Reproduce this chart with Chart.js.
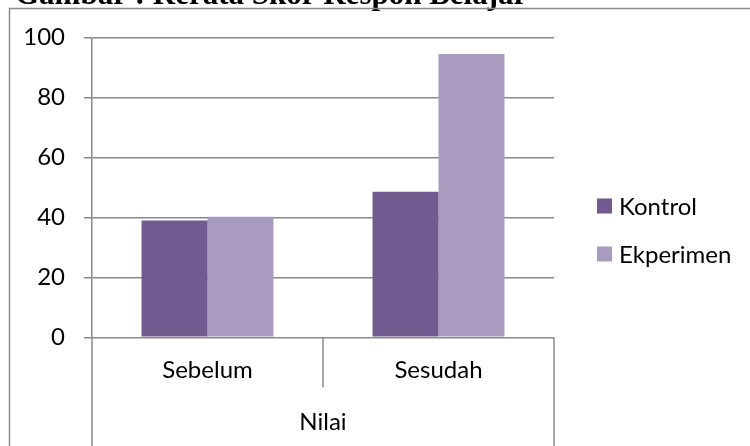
<!DOCTYPE html>
<html>
<head>
<meta charset="utf-8">
<script src="https://cdn.jsdelivr.net/npm/chart.js@4.4.0/dist/chart.umd.min.js"></script>
<style>
  html, body { margin: 0; padding: 0; background: #fff; }
  #wrap { width: 750px; height: 446px; position: relative; }
</style>
</head>
<body>
<div id="wrap"><canvas id="chart" width="750" height="446"></canvas></div>
<script>
const categories = ['Sebelum', 'Sesudah'];
const groupLabel = 'Nilai';
const kontrol = [38.9, 48.5];
const ekperimen = [40.2, 94.4];
const yTicks = [0, 20, 40, 60, 80, 100];
const titleText = 'Gambar : Rerata Skor Respon Belajar';

const lineColor = '#8a8a8a';
const sans = 'Lato';
const fontSize = 24;

// frame, title, multi-level axis lines and legend
const decor = {
  id: 'decor',
  afterDraw(chart) {
    const ctx = chart.ctx;
    const area = chart.chartArea;
    const x = chart.scales.x;
    ctx.save();
    ctx.fillStyle = '#000';
    ctx.font = 'bold 31px "Liberation Serif"';
    ctx.textBaseline = 'alphabetic';
    ctx.fillText(titleText, 15, 4);

    ctx.strokeStyle = lineColor;
    ctx.lineWidth = 1.5;
    ctx.strokeRect(9.5, 8.5, 900, 600);

    // category axis: outer lines down to the bottom, divider between categories
    ctx.beginPath();
    ctx.moveTo(area.left, area.bottom);
    ctx.lineTo(area.left, 446);
    ctx.moveTo(area.right, area.bottom);
    ctx.lineTo(area.right, 446);
    const mid = (x.getPixelForValue(0) + x.getPixelForValue(1)) / 2;
    ctx.moveTo(mid, area.bottom);
    ctx.lineTo(mid, area.bottom + 50);
    ctx.stroke();

    ctx.fillStyle = '#000';
    ctx.font = fontSize + 'px ' + sans;
    ctx.textAlign = 'center';
    ctx.textBaseline = 'middle';
    ctx.fillText(groupLabel, (area.left + area.right) / 2, 422);

    // legend
    ctx.textAlign = 'left';
    chart.data.datasets.forEach((ds, i) => {
      const cy = 206 + i * 48;
      ctx.fillStyle = ds.backgroundColor;
      ctx.fillRect(597, cy - 7.5, 15, 15);
      ctx.fillStyle = '#000';
      ctx.fillText(ds.label, 619, cy + 1);
    });
    ctx.restore();
  }
};

new Chart(document.getElementById('chart').getContext('2d'), {
  type: 'bar',
  data: {
    labels: categories,
    datasets: [
      { label: 'Kontrol', data: kontrol, backgroundColor: '#72598f' },
      { label: 'Ekperimen', data: ekperimen, backgroundColor: '#a99abf' }
    ]
  },
  options: {
    responsive: false,
    animation: false,
    devicePixelRatio: 1,
    categoryPercentage: 0.571,
    barPercentage: 1,
    layout: { padding: { left: 0, top: 37.3, right: 196, bottom: 0 } },
    plugins: { legend: { display: false }, tooltip: { enabled: false } },
    scales: {
      x: {
        grid: { display: false, drawTicks: false },
        border: { display: false },
        ticks: { color: '#000', font: { family: sans, size: fontSize }, padding: 19 },
        afterFit: s => { s.height = 446 - 337.3; }
      },
      y: {
        min: 0,
        max: 100,
        afterBuildTicks: s => { s.ticks = yTicks.map(v => ({ value: v })); },
        grid: { color: lineColor, lineWidth: 1.5, tickLength: 8 },
        border: { color: lineColor, width: 1.5 },
        ticks: { color: '#000', font: { family: sans, size: fontSize }, padding: 19 },
        afterFit: s => { s.width = 92; }
      }
    }
  },
  plugins: [decor]
});
</script>
</body>
</html>
